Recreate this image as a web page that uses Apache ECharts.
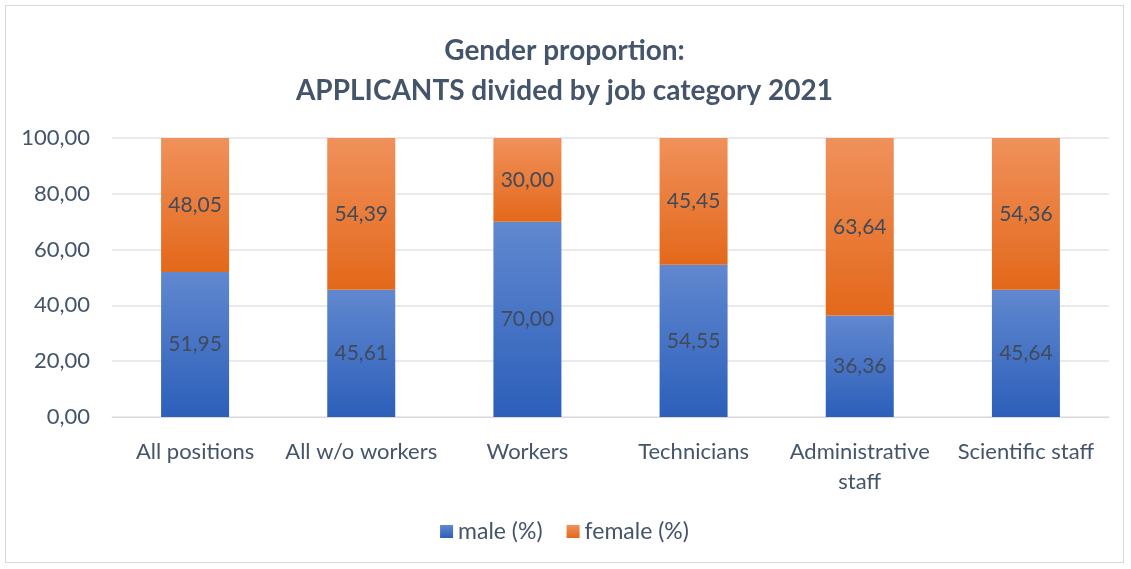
<!DOCTYPE html>
<html>
<head>
<meta charset="utf-8">
<script src="https://cdn.jsdelivr.net/npm/echarts@6/dist/echarts.min.js"></script>
<style>
  html, body { margin: 0; padding: 0; background: #fff; }
  #chart { position: absolute; left: 5px; top: 5px; width: 1119px; height: 558px;
           border: 1px solid #d9d9d9; box-sizing: border-box; }
</style>
</head>
<body>
<div id="chart"></div>
<script>
var categories = ['All positions', 'All w/o workers', 'Workers', 'Technicians', 'Administrative\nstaff', 'Scientific staff'];
var maleValues = [51.95, 45.61, 70.00, 54.55, 36.36, 45.64];
var femaleValues = [48.05, 54.39, 30.00, 45.45, 63.64, 54.36];
var yTicks = { min: 0, max: 100, interval: 20 };

var textColor = '#44546a';
var fontName = 'Lato, "Liberation Sans", sans-serif';

function fmt(v) {
    return v.toFixed(2).replace('.', ',');
}

function grad(top, bottom) {
    return new echarts.graphic.LinearGradient(0, 0, 0, 1, [
        { offset: 0, color: top },
        { offset: 1, color: bottom }
    ]);
}

var myChart = echarts.init(document.getElementById('chart'));

var option = {
    textStyle: { fontFamily: fontName },
    title: {
        text: 'Gender proportion:\nAPPLICANTS divided by job category 2021',
        left: 'center',
        top: 20,
        textStyle: {
            fontFamily: fontName,
            fontSize: 28,
            fontWeight: 'bold',
            color: textColor,
            lineHeight: 40
        }
    },
    legend: {
        bottom: 14,
        left: 'center',
        itemWidth: 13,
        itemHeight: 13,
        itemGap: 24,
        icon: 'rect',
        textStyle: { fontFamily: fontName, fontSize: 23, color: textColor },
        data: ['male (%)', 'female (%)']
    },
    grid: {
        left: 106,
        right: 14,
        top: 132,
        bottom: 145,
        containLabel: false
    },
    xAxis: {
        type: 'category',
        data: categories,
        axisLine: { lineStyle: { color: '#d9d9d9' } },
        axisTick: { show: false },
        axisLabel: {
            fontFamily: fontName,
            fontSize: 22,
            color: textColor,
            margin: 20,
            lineHeight: 30,
            interval: 0
        }
    },
    yAxis: {
        type: 'value',
        min: yTicks.min,
        max: yTicks.max,
        interval: yTicks.interval,
        axisLine: { show: false },
        axisTick: { show: false },
        splitLine: { lineStyle: { color: '#e0e3e8', width: 1.5 } },
        axisLabel: {
            fontFamily: fontName,
            fontSize: 22,
            color: textColor,
            margin: 22,
            formatter: function (v) { return fmt(v); }
        }
    },
    series: [
        {
            name: 'male (%)',
            type: 'bar',
            stack: 'total',
            barWidth: 68,
            data: maleValues,
            itemStyle: { color: grad('#6188cf', '#2c5fba') },
            label: {
                show: true,
                position: 'inside',
                fontFamily: fontName,
                fontSize: 21,
                color: '#404a5a',
                formatter: function (p) { return fmt(p.value); }
            }
        },
        {
            name: 'female (%)',
            type: 'bar',
            stack: 'total',
            barWidth: 68,
            data: femaleValues,
            itemStyle: { color: grad('#f0915b', '#e3681a') },
            label: {
                show: true,
                position: 'inside',
                fontFamily: fontName,
                fontSize: 21,
                color: '#404a5a',
                formatter: function (p) { return fmt(p.value); }
            }
        }
    ]
};

myChart.setOption(option);
</script>
</body>
</html>
